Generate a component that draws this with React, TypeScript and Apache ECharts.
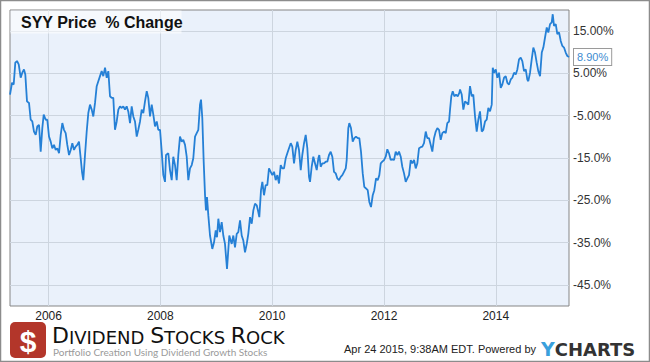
import React, { useEffect, useRef } from "react";
import * as echarts from "echarts";

// Decimal-year position of each reading and SYY price % change since Apr 24 2005
const years: number[] = [
  2005.31, 2005.346, 2005.376, 2005.405, 2005.435, 2005.466, 2005.501, 2005.53, 2005.56, 2005.584,
  2005.614, 2005.65, 2005.68, 2005.709, 2005.739, 2005.77, 2005.798, 2005.829, 2005.859, 2005.888,
  2005.913, 2005.949, 2005.977, 2006.008, 2006.038, 2006.067, 2006.097, 2006.128, 2006.156, 2006.187,
  2006.217, 2006.246, 2006.276, 2006.306, 2006.335, 2006.366, 2006.396, 2006.425, 2006.455, 2006.485,
  2006.514, 2006.544, 2006.575, 2006.598, 2006.621, 2006.652, 2006.682, 2006.711, 2006.741, 2006.772,
  2006.8, 2006.831, 2006.861, 2006.89, 2006.92, 2006.95, 2006.979, 2007.01, 2007.04, 2007.069,
  2007.099, 2007.129, 2007.158, 2007.188, 2007.219, 2007.248, 2007.278, 2007.308, 2007.337, 2007.367,
  2007.397, 2007.426, 2007.457, 2007.487, 2007.516, 2007.546, 2007.577, 2007.605, 2007.636, 2007.666,
  2007.695, 2007.725, 2007.756, 2007.784, 2007.815, 2007.845, 2007.874, 2007.904, 2007.935, 2007.963,
  2007.994, 2008.024, 2008.053, 2008.083, 2008.101, 2008.142, 2008.172, 2008.203, 2008.231, 2008.262,
  2008.292, 2008.321, 2008.351, 2008.382, 2008.41, 2008.441, 2008.471, 2008.5, 2008.53, 2008.561,
  2008.589, 2008.62, 2008.65, 2008.679, 2008.709, 2008.727, 2008.75, 2008.775, 2008.799, 2008.816,
  2008.834, 2008.858, 2008.888, 2008.929, 2008.96, 2008.99, 2009.013, 2009.037, 2009.067, 2009.097,
  2009.126, 2009.156, 2009.192, 2009.233, 2009.276, 2009.305, 2009.335, 2009.366, 2009.394, 2009.425,
  2009.455, 2009.484, 2009.514, 2009.545, 2009.573, 2009.604, 2009.634, 2009.663, 2009.693, 2009.724,
  2009.752, 2009.77, 2009.8, 2009.824, 2009.854, 2009.884, 2009.913, 2009.943, 2009.974, 2010.003,
  2010.033, 2010.063, 2010.092, 2010.122, 2010.153, 2010.181, 2010.212, 2010.242, 2010.271, 2010.301,
  2010.332, 2010.36, 2010.391, 2010.421, 2010.45, 2010.48, 2010.511, 2010.539, 2010.57, 2010.6,
  2010.629, 2010.659, 2010.677, 2010.707, 2010.736, 2010.766, 2010.797, 2010.826, 2010.843, 2010.868,
  2010.897, 2010.927, 2010.958, 2010.986, 2011.017, 2011.047, 2011.076, 2011.106, 2011.137, 2011.166,
  2011.196, 2011.226, 2011.255, 2011.285, 2011.316, 2011.333, 2011.362, 2011.38, 2011.41, 2011.441,
  2011.47, 2011.5, 2011.53, 2011.559, 2011.589, 2011.62, 2011.648, 2011.679, 2011.709, 2011.738,
  2011.768, 2011.799, 2011.827, 2011.858, 2011.888, 2011.917, 2011.942, 2011.97, 2012.001, 2012.031,
  2012.06, 2012.09, 2012.121, 2012.149, 2012.18, 2012.21, 2012.239, 2012.269, 2012.3, 2012.328,
  2012.359, 2012.389, 2012.418, 2012.448, 2012.479, 2012.507, 2012.538, 2012.568, 2012.597, 2012.627,
  2012.657, 2012.686, 2012.716, 2012.747, 2012.775, 2012.806, 2012.836, 2012.865, 2012.895, 2012.926,
  2012.955, 2012.985, 2013.015, 2013.044, 2013.074, 2013.105, 2013.133, 2013.164, 2013.182, 2013.205,
  2013.23, 2013.259, 2013.289, 2013.319, 2013.348, 2013.361, 2013.391, 2013.42, 2013.45, 2013.48,
  2013.509, 2013.539, 2013.57, 2013.598, 2013.629, 2013.659, 2013.688, 2013.718, 2013.749, 2013.777,
  2013.808, 2013.838, 2013.867, 2013.897, 2013.928, 2013.946, 2013.969, 2014.0, 2014.028, 2014.058,
  2014.089, 2014.117, 2014.148, 2014.178, 2014.207, 2014.237, 2014.268, 2014.296, 2014.327, 2014.357,
  2014.386, 2014.416, 2014.446, 2014.475, 2014.505, 2014.536, 2014.564, 2014.582, 2014.613, 2014.643,
  2014.672, 2014.702, 2014.732, 2014.761, 2014.792, 2014.823, 2014.851, 2014.881, 2014.912, 2014.94,
  2014.971, 2015.001, 2015.019, 2015.042, 2015.073, 2015.101, 2015.132, 2015.162, 2015.191, 2015.221,
  2015.251, 2015.28, 2015.31,
];

const pctChange: number[] = [
  0, 2.79, 2.38, 7.55, 7.93, 7.14, 3.98, 5.17, 5.95, 4.76,
  -1.6, -1.98, -5.95, -6.36, -8.74, -9.52, -7.55, -7.14, -13.5, -7.93,
  -4.76, -5.95, -5.95, -9.93, -11.12, -12.69, -11.9, -13.1, -12.69, -13.88,
  -9.52, -6.74, -8.33, -9.12, -11.9, -14.29, -13.1, -11.5, -13.1, -12.31,
  -11.9, -11.12, -15.07, -18.26, -20.24, -14.29, -8.74, -4.36, -2.38, -3.57,
  -5.17, -1.98, 1.98, 3.17, 4.36, 5.55, 4.36, 6.36, 3.98, 5.55,
  -0.4, -0.79, -0.79, -8.33, -6.36, -3.57, -2.79, -3.17, -2.79, -3.57,
  -2.79, -3.98, -6.74, -2.79, -5.17, -6.36, -9.93, -8.33, -6.36, -3.57,
  -4.36, -1.6, 0.79, -0.79, -5.17, -2.38, -4.76, -7.55, -6.36, -8.33,
  -8.33, -13.5, -19.05, -20.64, -14.29, -13.88, -17.86, -20.24, -14.69, -16.67,
  -20.24, -14.29, -9.93, -11.12, -10.71, -11.9, -14.69, -20.24, -17.45, -16.67,
  -15.07, -9.93, -9.12, -8.33, -2.38, -1.19, -5.55, -15.88, -23.81, -27.38,
  -24.21, -28.57, -33.33, -36.5, -34.93, -32.14, -33.74, -29.36, -32.55, -30.17,
  -33.33, -35.31, -41.26, -33.33, -35.31, -33.33, -36.12, -32.93, -32.55, -29.76,
  -33.33, -34.52, -37.31, -35.31, -32.93, -28.98, -30.55, -27.38, -25.79, -26.19,
  -27.79, -28.98, -22.62, -20.64, -23.81, -21.43, -21.43, -17.45, -18.26, -19.05,
  -18.26, -20.24, -19.05, -21.02, -16.67, -17.45, -17.45, -15.07, -13.88, -12.69,
  -11.5, -12.31, -16.26, -13.1, -11.12, -13.1, -17.86, -14.29, -11.5, -9.52,
  -12.69, -19.45, -20.64, -17.07, -14.69, -16.26, -17.86, -15.07, -14.29, -17.07,
  -16.26, -16.26, -15.88, -15.88, -14.29, -13.5, -14.69, -18.26, -18.64, -19.83,
  -20.24, -19.45, -19.05, -18.26, -17.45, -15.48, -7.93, -6.74, -7.93, -11.12,
  -10.31, -9.93, -10.31, -10.31, -13.5, -18.64, -21.83, -22.21, -22.62, -25.4,
  -26.6, -23.81, -22.62, -19.83, -20.24, -19.05, -16.26, -15.88, -15.48, -14.69,
  -12.93, -13.88, -15.48, -15.31, -15.48, -13.5, -14.29, -13.5, -14.69, -17.07,
  -18.64, -20.64, -19.83, -19.05, -15.48, -16.26, -15.48, -17.45, -16.26, -12.69,
  -12.45, -12.31, -11.5, -8.74, -10.31, -10.31, -11.9, -13.5, -10.31, -8.74,
  -7.93, -8.33, -10.71, -9.12, -8.74, -9.12, -6.74, -6.36, -3.57, -0.4,
  0.79, -0.4, 0, -0.4, 0.4, 1.19, 0, -3.57, -1.6, -1.98,
  -2.38, 1.98, -0.4, 0, -5.17, -8.74, -5.95, -3.98, -8.74, -8.33,
  -6.36, -5.95, -3.17, -3.98, -2.38, 6.36, 5.17, 5.95, 3.98, 5.17,
  1.6, 2.38, 3.98, 4.36, 2.79, 2.38, 3.57, 3.98, 5.17, 4.76,
  5.95, 8.33, 8.74, 7.93, 5.55, 5.95, 3.57, 3.17, 5.17, 8.33,
  11.12, 9.93, 7.55, 5.55, 4.36, 9.93, 11.12, 13.5, 15.88, 14.69,
  16.67, 17.07, 19.0, 16.26, 16.67, 14.29, 14.69, 12.69, 11.5, 11.12,
  9.93, 9.12, 8.9,
];

const xTickYears: number[] = [2006, 2008, 2010, 2012, 2014];
const yTickValues: number[] = [15, 5, -5, -15, -25, -35, -45];
const yTickLabels: string[] = ["15.00%", "5.00%", "-5.00%", "-15.0%", "-25.0%", "-35.0%", "-45.0%"];
const lastLabel = "8.90%";

const titleText = "SYY Price  % Change";
const footerStamp = "Apr 24 2015, 9:38AM EDT. Powered by";
const tagline = "Portfolio Creation Using Dividend Growth Stocks";

export default function App() {
  const ref = useRef<HTMLDivElement>(null);

  useEffect(() => {
    if (!ref.current) return;
    const chart = echarts.init(ref.current, null, { renderer: "svg" });
    const data = years.map((y, i) => [y, pctChange[i]]);

    chart.setOption({
      animation: false,
      backgroundColor: "#ffffff",
      grid: {
        left: 10,
        top: 10,
        width: 559,
        height: 296,
        show: true,
        backgroundColor: "#eaf1fb",
        borderColor: "#858585",
        borderWidth: 1,
        outerBoundsMode: "none",
        containLabel: false,
      },
      xAxis: {
        type: "value",
        min: 2005.31,
        max: 2015.31,
        axisLine: { show: false },
        axisTick: { show: false, customValues: xTickYears },
        axisLabel: {
          customValues: xTickYears,
          formatter: (v: number) => String(Math.round(v)),
          color: "#222",
          fontSize: 12,
          fontFamily: "Liberation Sans, Arial, sans-serif",
          margin: 4,
        },
        splitLine: { show: true, lineStyle: { color: "#cdd5df", width: 1 } },
      },
      yAxis: {
        type: "value",
        position: "right",
        min: -50,
        max: 20,
        axisLine: { show: false },
        axisTick: { show: false, customValues: yTickValues },
        axisLabel: {
          customValues: yTickValues,
          formatter: (v: number) => {
            const i = yTickValues.indexOf(Math.round(v));
            return i >= 0 ? yTickLabels[i] : "";
          },
          color: "#333",
          fontSize: 12,
          fontFamily: "Liberation Sans, Arial, sans-serif",
          margin: 4,
        },
        splitLine: { show: true, lineStyle: { color: "#cdd5df", width: 1 } },
      },
      series: [
        {
          type: "line",
          data,
          showSymbol: false,
          symbol: "none",
          lineStyle: { color: "#2580d6", width: 1.8 },
          endLabel: {
            show: true,
            formatter: () => lastLabel,
            color: "#3d8bd0",
            fontSize: 11,
            fontFamily: "Liberation Sans, Arial, sans-serif",
            backgroundColor: "#ffffff",
            borderColor: "#9a9a9a",
            borderWidth: 1,
            padding: [3, 3, 2, 3],
            distance: 5,
          },
        },
      ],
      graphic: [
        {
          type: "rect",
          shape: { x: 0.5, y: 0.5, width: 649, height: 361 },
          style: { fill: "none", stroke: "#8c8c8c", lineWidth: 1.5 },
          z: 10,
        },
        {
          type: "rect",
          shape: { x: 10.5, y: 10.5, width: 171, height: 23 },
          style: { fill: "rgba(255,255,255,0.55)" },
          z: 5,
        },
        {
          type: "text",
          x: 21,
          y: 22,
          style: {
            text: titleText,
            fill: "#111",
            font: "bold 16px 'Liberation Sans', Arial, sans-serif",
            verticalAlign: "middle",
          },
          z: 6,
        },
        {
          type: "rect",
          shape: { x: 10, y: 322, width: 36, height: 36, r: 5 },
          style: { fill: "#b3362a" },
        },
        {
          type: "text",
          x: 28,
          y: 341,
          style: {
            text: "$",
            fill: "#ffffff",
            font: "bold 30px 'Liberation Sans', Arial, sans-serif",
            align: "center",
            verticalAlign: "middle",
          },
        },
        {
          type: "text",
          x: 52,
          y: 338,
          style: {
            text: "{b|D}{s|IVIDEND }{b|S}{s|TOCKS }{b|R}{s|OCK}",
            verticalAlign: "middle",
            rich: {
              b: { font: "22px 'DejaVu Sans', sans-serif", fill: "#111", lineHeight: 16, verticalAlign: "bottom" },
              s: { font: "18px 'DejaVu Sans', sans-serif", fill: "#111", lineHeight: 16, verticalAlign: "bottom" },
            },
          },
        },
        {
          type: "text",
          x: 53,
          y: 352,
          style: {
            text: tagline,
            fill: "#9a9a9a",
            font: "10px Lato, 'Open Sans', sans-serif",
            verticalAlign: "middle",
          },
        },
        {
          type: "text",
          x: 344,
          y: 349,
          style: {
            text: footerStamp,
            fill: "#222",
            font: "11px 'Liberation Sans', Arial, sans-serif",
            verticalAlign: "middle",
          },
        },
        {
          type: "text",
          x: 541,
          y: 349,
          style: {
            text: "{y|Y}{c|CHARTS}",
            verticalAlign: "middle",
            rich: {
              y: { font: "bold 19px 'DejaVu Sans', sans-serif", fill: "#3aa0dc" },
              c: { font: "bold 18px 'DejaVu Sans', sans-serif", fill: "#333" },
            },
          },
        },
      ],
    });

    return () => chart.dispose();
  }, []);

  return (
    <div
      ref={ref}
      style={{ position: "fixed", left: 0, top: 0, width: 650, height: 362 }}
    />
  );
}
